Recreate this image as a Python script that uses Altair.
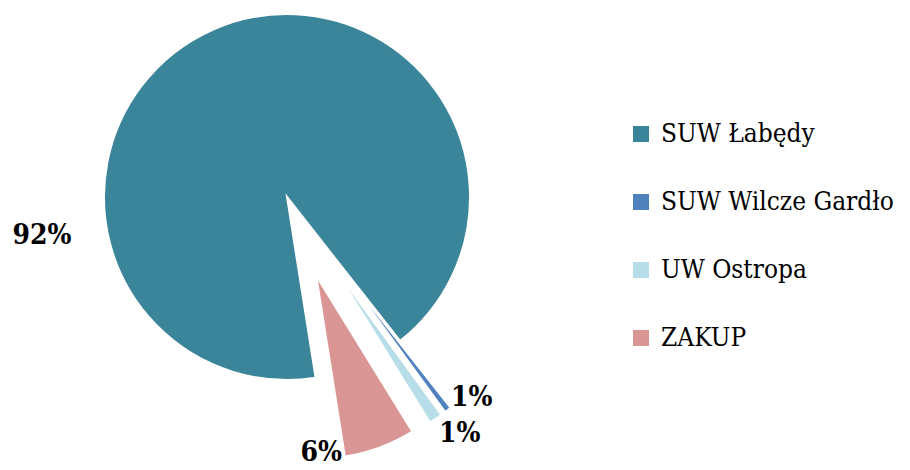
import math
import altair as alt
import pandas as pd

# ---- data ----
categories = ["SUW Łabędy", "SUW Wilcze Gardło", "UW Ostropa", "ZAKUP"]
shares = [91.9, 0.6, 1.2, 6.3]
pct_labels = ["92%", "1%", "1%", "6%"]
palette = ["#3A8599", "#4F81BD", "#B7DEE8", "#D99694"]

# ---- styling / layout constants ----
FONT = "DejaVu Serif Condensed, DejaVu Serif, serif"
CX, CY, R = 279, 189, 183          # pie centre and radius (px, chart coords)
START_DEG = 171                    # rotation of first slice (clockwise from top)
EXPLODE = 84                       # explosion distance of the small slices
label_angle_deg = [261, 137.4, 143.9, 172.4]
label_dist = [248, 273, 293, 258]

df = pd.DataFrame({
    "name": categories,
    "value": shares,
    "label": pct_labels,
    "order": list(range(len(categories))),
    "la": label_angle_deg,
    "ld": label_dist,
})

start = math.radians(START_DEG)

base = (
    alt.Chart(df)
    .transform_joinaggregate(total="sum(value)")
    .transform_window(cum="sum(value)", sort=[alt.SortField("order")], frame=[None, 0])
    .transform_calculate(t0=f"{start} + 2*PI*(datum.cum - datum.value)/datum.total")
    .transform_calculate(t1=f"{start} + 2*PI*datum.cum/datum.total")
    .transform_calculate(mid="(datum.t0 + datum.t1)/2")
    .transform_calculate(ex=f"datum.value > 50 ? 0 : {EXPLODE}")
    .transform_calculate(px=f"{CX} + datum.ex*sin(datum.mid)")
    .transform_calculate(py=f"{CY} - datum.ex*cos(datum.mid)")
    .transform_calculate(lx=f"{CX} + datum.ld*sin(datum.la*PI/180)")
    .transform_calculate(ly=f"{CY} - datum.ld*cos(datum.la*PI/180)")
)

arcs = base.mark_arc(radius=R, stroke="white", strokeWidth=2).encode(
    theta=alt.Theta("t0:Q", scale=None),
    theta2="t1:Q",
    x=alt.X("px:Q", scale=None, axis=None),
    y=alt.Y("py:Q", scale=None, axis=None),
    color=alt.Color(
        "name:N",
        scale=alt.Scale(domain=categories, range=palette),
        legend=alt.Legend(
            title=None,
            orient="none",
            legendX=620,
            legendY=113,
            direction="vertical",
            symbolType="square",
            symbolSize=256,
            symbolStrokeWidth=0,
            labelFont=FONT,
            labelFontSize=26,
            labelColor="black",
            labelOffset=7,
            rowPadding=42,
            padding=0,
            labelLimit=400,
        ),
    ),
    order=alt.Order("order:Q"),
)

texts = base.mark_text(
    font=FONT, fontSize=28, fontWeight="bold", color="black",
    align="center", baseline="middle",
).encode(
    x=alt.X("lx:Q", scale=None, axis=None),
    y=alt.Y("ly:Q", scale=None, axis=None),
    text="label:N",
)

chart = (
    alt.layer(arcs, texts)
    .properties(width=894, height=462, padding=0, autosize="none", background="white")
    .configure_view(stroke=None)
)

chart.save("out.html", embed_options={"renderer": "svg", "actions": False})
